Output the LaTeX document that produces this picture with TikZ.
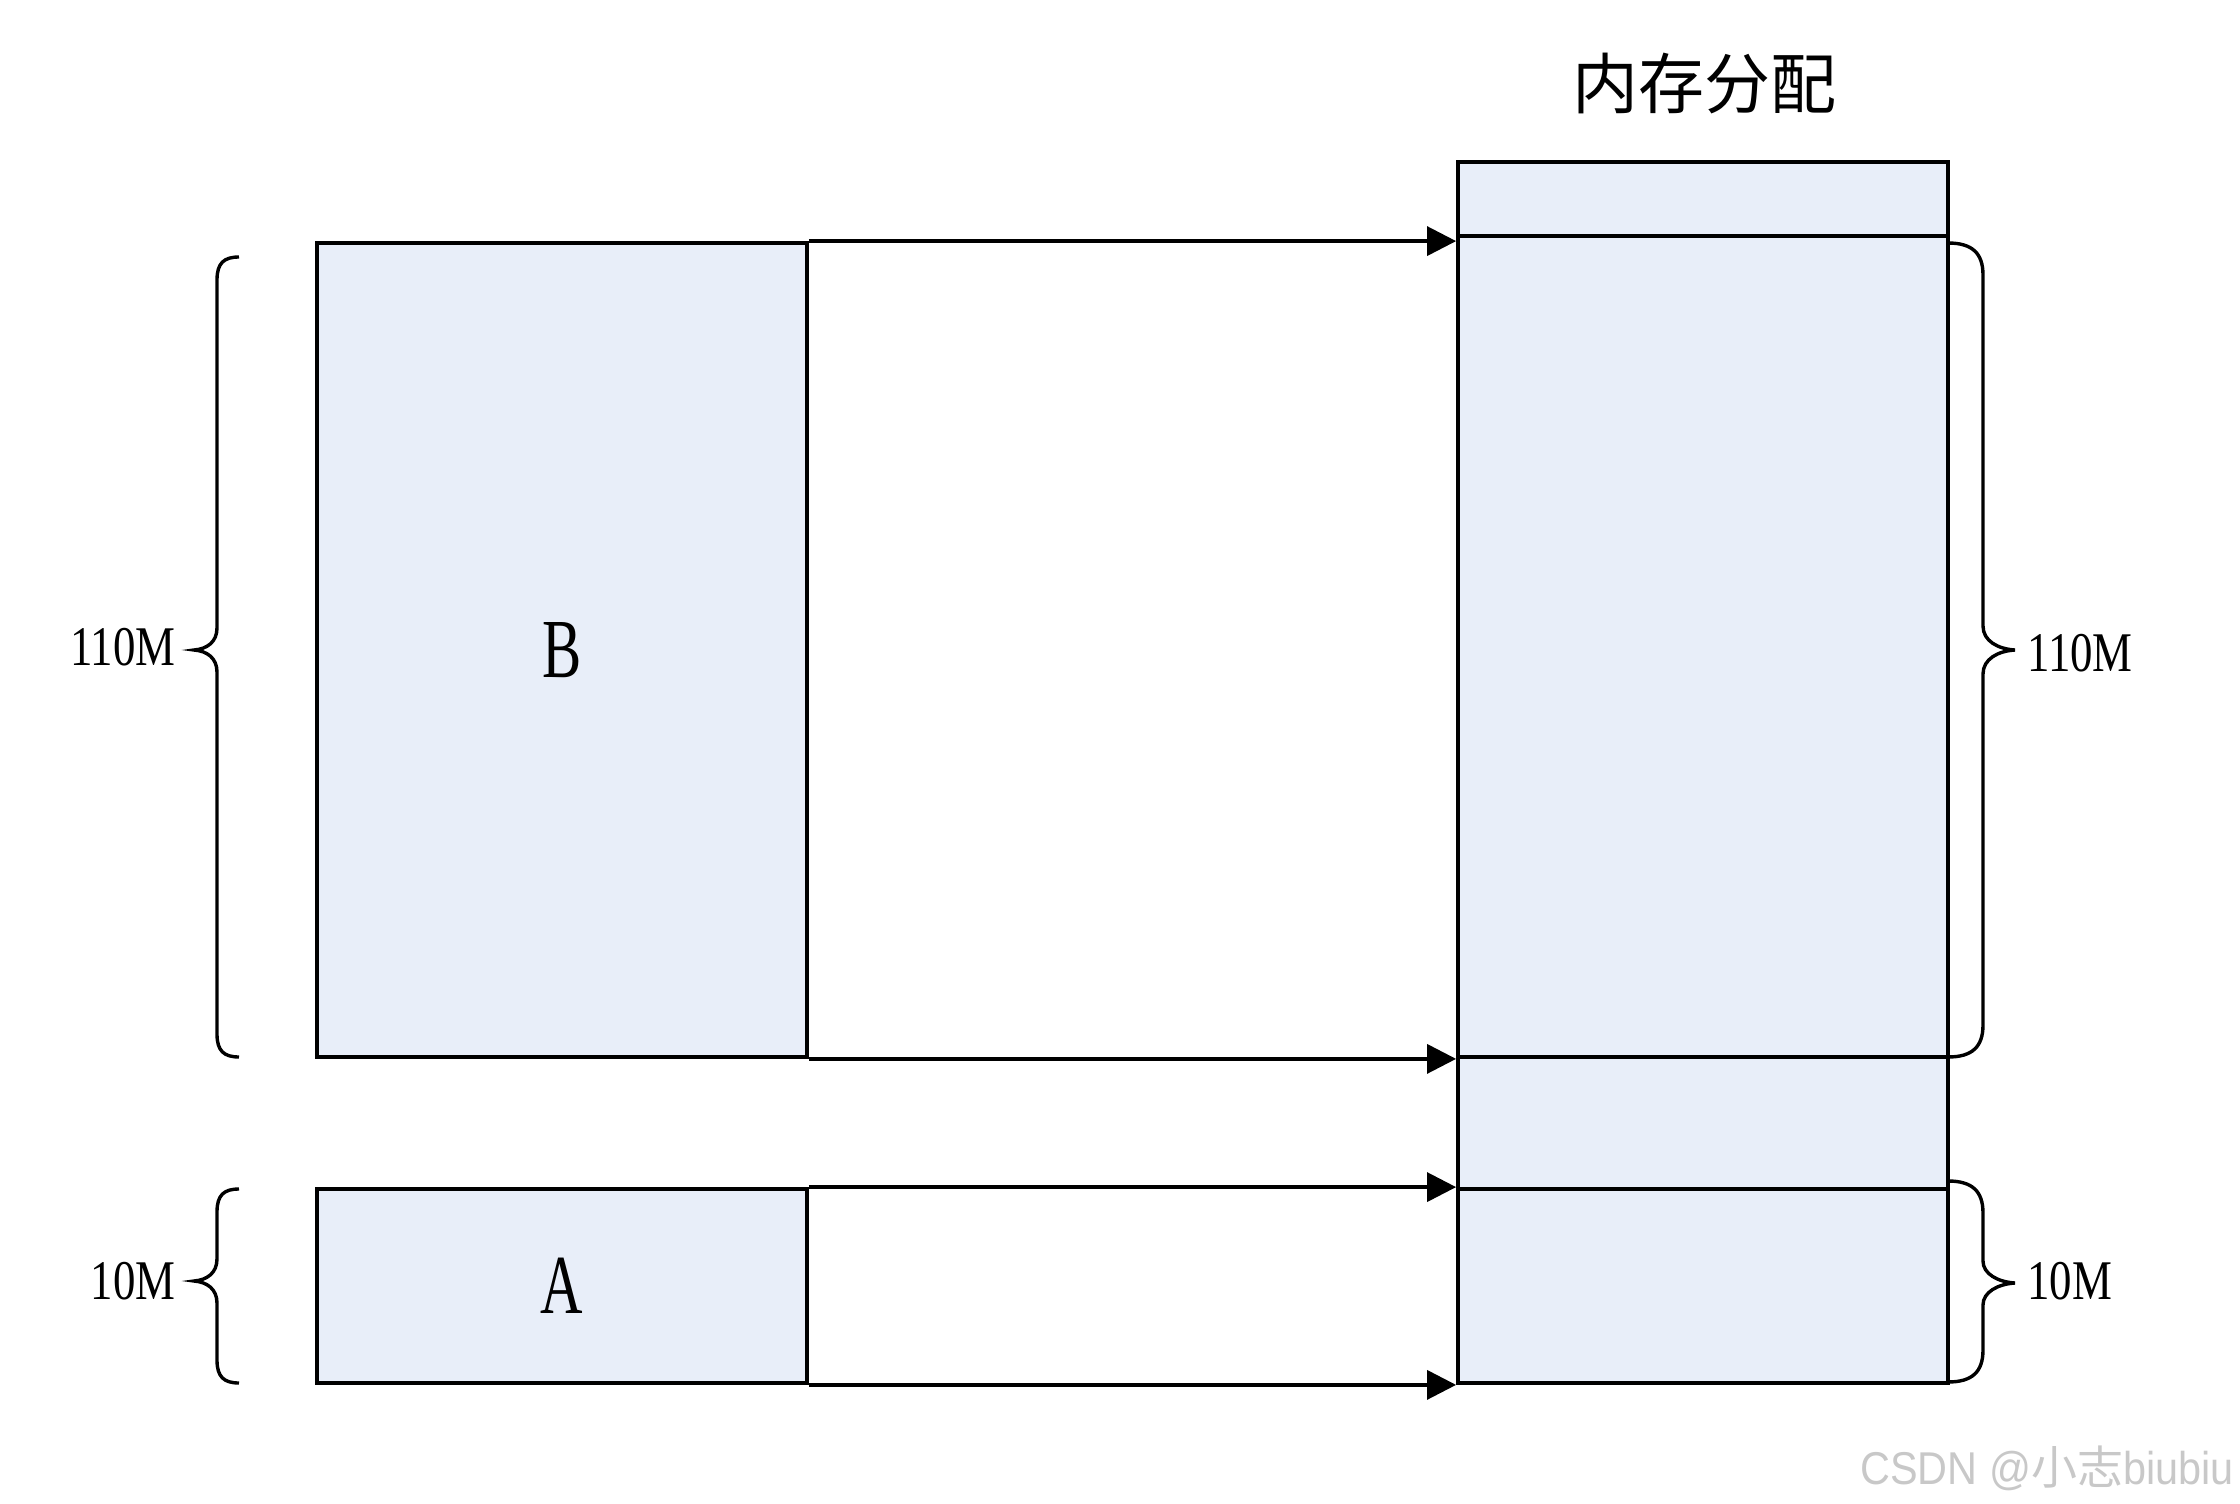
\documentclass[tikz,border=0pt]{standalone}
\usepackage{fontspec}
\setmainfont{Liberation Serif}
\newfontfamily\cjk{Noto Sans CJK SC}
\newfontfamily\condA[FakeStretch=0.7]{Liberation Serif}
\newfontfamily\condL[FakeStretch=0.8]{Liberation Serif}
\newfontfamily\wmfont[FakeStretch=0.9]{Liberation Sans}
\usetikzlibrary{arrows.meta}
\definecolor{cellfill}{HTML}{E8EEF9}
\definecolor{wmgray}{RGB}{200,200,200}
\begin{document}
\begin{tikzpicture}[x=0.5pt,y=-0.5pt,
  cell/.style={draw, line width=1.9pt, fill=cellfill, minimum width=245pt, inner sep=0pt, anchor=center},
  conn/.style={line width=1.7pt, -{Triangle[length=14.5pt,width=14.5pt]}},
  brc/.style={line width=1.7pt},
  lbl/.style={font=\condL\fontsize{28}{30}\selectfont, inner sep=0pt},
  big/.style={font=\condA\fontsize{42}{45}\selectfont}]
\useasboundingbox (0,0) rectangle (2240,1504);

% left blocks
\node[cell, minimum height=407pt, label={[big]center:B}] (B) at (562,650) {};
\node[cell, minimum height=97pt, label={[big]center:A}] (A) at (562,1286) {};

% memory column
\node[cell, minimum height=37pt] (mTop) at (1703,199) {};
\node[cell, minimum height=410.5pt] (mB) at (1703,646.5) {};
\node[cell, minimum height=66pt] (mGap) at (1703,1123) {};
\node[cell, minimum height=97pt] (mA) at (1703,1286) {};

% title
\node[font=\cjk\fontsize{33}{36}\selectfont, inner sep=0pt] (title) at (1704,84) {内存分配};

% connectors
\draw[conn] (B.north east) -- (B.north east -| mB.west);
\draw[conn] (B.south east) -- (B.south east -| mGap.west);
\draw[conn] (A.north east) -- (A.north east -| mA.west);
\draw[conn] (A.south east) -- (A.south east -| mA.west);

% left braces
\draw[brc] (239,257) .. controls (224,257) and (217,263) .. (217,280) -- (217,628)
  .. controls (217,642) and (207,649) .. (194,650)
  .. controls (207,651) and (217,658) .. (217,672) -- (217,1034)
  .. controls (217,1051) and (224,1057) .. (239,1057);
\draw[brc] (239,1189) .. controls (224,1189) and (217,1195) .. (217,1212) -- (217,1259)
  .. controls (217,1273) and (207,1280) .. (194,1281)
  .. controls (207,1282) and (217,1289) .. (217,1303) -- (217,1360)
  .. controls (217,1377) and (224,1383) .. (239,1383);

% right braces
\draw[brc] (1948,243) .. controls (1972,243) and (1983,253) .. (1983,275) -- (1983,626)
  .. controls (1983,641) and (1998,649) .. (2015,650)
  .. controls (1998,651) and (1983,659) .. (1983,674) -- (1983,1025)
  .. controls (1983,1047) and (1972,1057) .. (1948,1057);
\draw[brc] (1948,1181) .. controls (1972,1181) and (1983,1191) .. (1983,1213) -- (1983,1261)
  .. controls (1983,1274) and (1998,1282) .. (2015,1283)
  .. controls (1998,1284) and (1983,1292) .. (1983,1305) -- (1983,1350)
  .. controls (1983,1372) and (1972,1382) .. (1948,1382);

% labels
\node[lbl, anchor=east] (l110) at (176,647) {110M};
\node[lbl, anchor=east] (l10) at (176,1281) {10M};
\node[lbl, anchor=west] (r110) at (2027,653) {110M};
\node[lbl, anchor=west] (r10) at (2027,1281) {10M};

% watermark
\node[anchor=east, inner sep=0pt, text=wmgray] (wm) at (2234,1468)
  {\wmfont\fontsize{23}{26}\selectfont CSDN @{\cjk 小志}biubiu};
\end{tikzpicture}
\end{document}
